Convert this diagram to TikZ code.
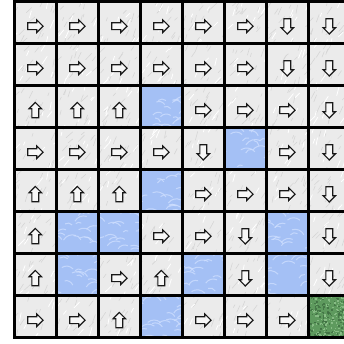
\documentclass[tikz,border=0pt]{standalone}
\definecolor{stone}{HTML}{EBEBEB}
\definecolor{stonedark}{HTML}{D6D6D6}
\definecolor{water}{HTML}{A4C0F5}
\definecolor{waterlight}{HTML}{D0E0FF}
\definecolor{grass}{HTML}{5E9A5E}
\definecolor{grassdark}{HTML}{3F6F42}
\definecolor{grasslight}{HTML}{8CC08A}
\newcommand\stonebg{%
  \fill[stone] (0,0) rectangle (42,42);
  \begin{scope}
    \clip (0,0) rectangle (42,42);
    \foreach \k in {1,...,16}{
      \pgfmathsetmacro\px{rnd*46-2}
      \pgfmathsetmacro\py{rnd*46-2}
      \pgfmathsetmacro\ang{100+rnd*40}
      \pgfmathsetmacro\len{3+rnd*6}
      \draw[stonedark, line width=0.6pt, line cap=round] (\px,\py) -- ++(\ang:\len);
    }
    \foreach \k in {1,...,8}{
      \pgfmathsetmacro\px{rnd*46-2}
      \pgfmathsetmacro\py{rnd*46-2}
      \pgfmathsetmacro\ang{100+rnd*40}
      \pgfmathsetmacro\len{3+rnd*6}
      \draw[white, line width=0.8pt, line cap=round] (\px,\py) -- ++(\ang:\len);
    }
  \end{scope}}
\newcommand\waterbg{%
  \fill[water] (0,0) rectangle (42,42);
  \begin{scope}
    \clip (0,0) rectangle (42,42);
    \foreach \k in {1,...,22}{
      \pgfmathsetmacro\px{rnd*50-6}
      \pgfmathsetmacro\py{rnd*50-6}
      \pgfmathsetmacro\dx{5+rnd*10}
      \pgfmathsetmacro\dy{rnd*10-5}
      \draw[waterlight, opacity=0.75, line width=1pt] (\px,\py) to[bend left=40] ++(\dx,\dy);
    }
  \end{scope}}
\newcommand\grassbg{%
  \fill[grass] (0,0) rectangle (42,42);
  \begin{scope}
    \clip (0,0) rectangle (42,42);
    \foreach \k in {1,...,160}{
      \pgfmathsetmacro\px{rnd*42}
      \pgfmathsetmacro\py{rnd*42}
      \fill[grassdark, opacity=0.8] (\px,\py) rectangle ++(1.6,1.6);
    }
    \foreach \k in {1,...,140}{
      \pgfmathsetmacro\px{rnd*42}
      \pgfmathsetmacro\py{rnd*42}
      \fill[grasslight, opacity=0.9] (\px,\py) rectangle ++(1.4,1.4);
    }
  \end{scope}}
\newcommand\arrowat[1]{%
  \draw[arrowshape, shift={(21,24.5)}, rotate=#1]
    (-7.5,-3.4) -- (1.5,-3.4) -- (1.5,-6.2) -- (7.8,0) -- (1.5,6.2) -- (1.5,3.4) -- (-7.5,3.4) -- cycle;}
\newcommand\cellR{\stonebg\arrowat{0}}
\newcommand\cellU{\stonebg\arrowat{90}}
\newcommand\cellD{\stonebg\arrowat{-90}}
\newcommand\cellW{\waterbg}
\newcommand\cellG{\grassbg}
\begin{document}
\begin{tikzpicture}[x=1pt,y=-1pt,
  arrowshape/.style={draw=black!90, fill=white!97!black, line width=1.15pt, line join=miter},
  gridline/.style={black, line width=2.6pt, line cap=rect}]
\useasboundingbox (0,0) rectangle (344,343);
\fill[white] (0,0) rectangle (344,343);
\def\xo{14.3}\def\yo{1.7}\def\s{42}
\pgfmathsetseed{7}
\foreach \row [count=\r from 0] in {{R,R,R,R,R,R,D,D},{R,R,R,R,R,R,D,D},{U,U,U,W,R,R,R,D},{R,R,R,R,D,W,R,D},{U,U,U,W,R,R,R,D},{U,W,W,R,R,D,W,D},{U,W,R,U,W,D,W,D},{R,R,U,W,R,R,R,G}}{
  \foreach \t [count=\c from 0] in \row {
    \pgfmathsetmacro\cx{\xo+\c*\s}
    \pgfmathsetmacro\cy{\yo+\r*\s}
    \begin{scope}[shift={(\cx,\cy)}]
      \csname cell\t\endcsname
    \end{scope}
  }
}
\foreach \i in {0,...,8}{
  \draw[gridline] (\xo+\i*\s,\yo) -- (\xo+\i*\s,\yo+8*\s);
  \draw[gridline] (\xo,\yo+\i*\s) -- (\xo+8*\s,\yo+\i*\s);
}
\end{tikzpicture}
\end{document}
